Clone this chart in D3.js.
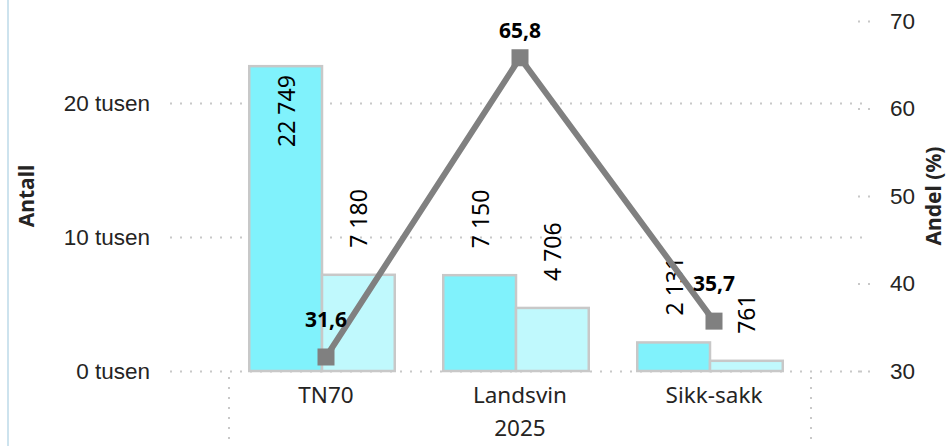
<!DOCTYPE html>
<html><head><meta charset="utf-8">
<script src="https://cdn.jsdelivr.net/npm/d3@7"></script>
<style>
body{margin:0;background:#fff;}
svg{display:block;font-family:"Segoe UI","Noto Sans",sans-serif;}
</style></head>
<body><svg id="c" width="947" height="446"></svg>
<script>
const categories = ["TN70","Landsvin","Sikk-sakk"];
const groupLabel = "2025";
const seriesA = [22749, 7150, 2131];
const seriesB = [7180, 4706, 761];
const share = [31.6, 65.8, 35.7];
const leftTicks = [0, 10000, 20000];
const rightTicks = [30, 40, 50, 60, 70];
const leftTitle = "Antall";
const rightTitle = "Andel (%)";

const fmtInt = d => d3.format(",")(d).replace(/,/g, " ");
const fmtDec = d => d3.format(".1f")(d).replace(".", ",");

const svg = d3.select("#c");
const W = 947, H = 446;
const plot = {left:170, right:870, top:21, bottom:371};
const textColor = "#252423";
const gridColor = "#c8c8c8";
const FS = 22.5;
const FS_BAR = 23;
const FS_BOLD = 21;

svg.append("rect").attr("x",7).attr("y",0).attr("width",2).attr("height",H).attr("fill","#cde3ee");

const yL = d3.scaleLinear().domain([0, 26120]).range([plot.bottom, plot.top]);
const yR = d3.scaleLinear().domain([30, 70]).range([plot.bottom, plot.top]);
const xLine = d3.scaleBand().domain(categories).range([229, 811]).padding(0);
const xBar = d3.scaleBand().domain(categories).range([225, 807]).paddingInner(0.25).paddingOuter(0.125);
const xSub = d3.scaleBand().domain(["a","b"]).range([0, xBar.bandwidth()]);

const gL = svg.append("g").attr("transform",`translate(${plot.left},0)`)
  .call(d3.axisLeft(yL).tickValues(leftTicks).tickSize(-(plot.right-plot.left)).tickPadding(20)
    .tickFormat(d => (d/1000) + " tusen"));
gL.select(".domain").remove();
gL.selectAll(".tick line").attr("stroke",gridColor).attr("stroke-width",2).attr("stroke-dasharray","2 8");
gL.selectAll(".tick text").attr("font-size",FS).attr("fill",textColor).attr("font-family",null);

const gR = svg.append("g").attr("transform",`translate(${plot.right},0)`)
  .call(d3.axisRight(yR).tickValues(rightTicks).tickSizeInner(-18).tickSizeOuter(0).tickPadding(20));
gR.select(".domain").remove();
gR.selectAll(".tick line").attr("stroke",gridColor).attr("stroke-width",2).attr("stroke-dasharray","2 8");
gR.selectAll(".tick text").attr("font-size",FS).attr("fill",textColor).attr("font-family",null);

svg.append("text").attr("transform",`translate(26,${(plot.top+plot.bottom)/2}) rotate(-90)`)
  .attr("text-anchor","middle").attr("dominant-baseline","central")
  .attr("font-size",FS_BOLD).attr("font-weight","bold").attr("fill",textColor).text(leftTitle);
svg.append("text").attr("transform",`translate(933,${(plot.top+plot.bottom)/2}) rotate(-90)`)
  .attr("text-anchor","middle").attr("dominant-baseline","central")
  .attr("font-size",FS_BOLD).attr("font-weight","bold").attr("fill",textColor).text(rightTitle);

const barData = [];
categories.forEach((c,i) => {
  barData.push({cat:c, key:"a", v:seriesA[i]});
  barData.push({cat:c, key:"b", v:seriesB[i]});
});
const fills = {a:"#80f2fc", b:"#c0f9fd"};
svg.append("g").selectAll("rect").data(barData).join("rect")
  .attr("x", d => xBar(d.cat) + xSub(d.key))
  .attr("y", d => yL(d.v))
  .attr("width", xSub.bandwidth())
  .attr("height", d => yL(0) - yL(d.v))
  .attr("fill", d => fills[d.key])
  .attr("stroke", "#c8c8c8").attr("stroke-width", 2.5);

const lblG = svg.append("g");
barData.forEach(d => {
  const cx = xBar(d.cat) + xSub(d.key) + xSub.bandwidth()/2;
  const top = yL(d.v);
  const t = lblG.append("text").attr("font-size",FS_BAR).attr("fill","#000")
    .attr("dominant-baseline","central").text(fmtInt(d.v));
  const len = t.node().getComputedTextLength();
  if (top - 27 - len < plot.top) {
    t.attr("transform",`translate(${cx},${top+9}) rotate(-90)`).attr("text-anchor","end");
  } else {
    t.attr("transform",`translate(${cx},${top-27}) rotate(-90)`).attr("text-anchor","start");
  }
});

const pts = categories.map((c,i) => [xLine(c)+xLine.bandwidth()/2, yR(share[i])]);
svg.append("path").attr("d", d3.line()(pts)).attr("fill","none")
  .attr("stroke","#808080").attr("stroke-width",6).attr("stroke-linejoin","miter");
svg.append("g").selectAll("rect").data(pts).join("rect")
  .attr("x", d => d[0]-8.5).attr("y", d => d[1]-8.5).attr("width",17).attr("height",17)
  .attr("fill","#808080");
svg.append("g").selectAll("text").data(pts).join("text")
  .attr("x", d => d[0]).attr("y", (d) => Math.max(d[1]-38, 30))
  .attr("text-anchor","middle").attr("dominant-baseline","central")
  .attr("font-size",FS_BOLD).attr("font-weight","bold").attr("fill","#000")
  .text((d,i) => fmtDec(share[i]));

const gX = svg.append("g");
gX.selectAll("text").data(categories).join("text")
  .attr("x", c => xLine(c)+xLine.bandwidth()/2).attr("y", 394)
  .attr("text-anchor","middle").attr("dominant-baseline","central")
  .attr("font-size",FS).attr("fill",textColor).text(c => c);
gX.append("text").attr("x", (xLine.range()[0]+xLine.range()[1])/2).attr("y", 427)
  .attr("text-anchor","middle").attr("dominant-baseline","central")
  .attr("font-size",FS).attr("fill",textColor).text(groupLabel);
xLine.range().forEach(x => {
  gX.append("line").attr("x1",x).attr("x2",x).attr("y1",377).attr("y2",440)
    .attr("stroke",gridColor).attr("stroke-width",2).attr("stroke-dasharray","2 8");
});
</script></body></html>
